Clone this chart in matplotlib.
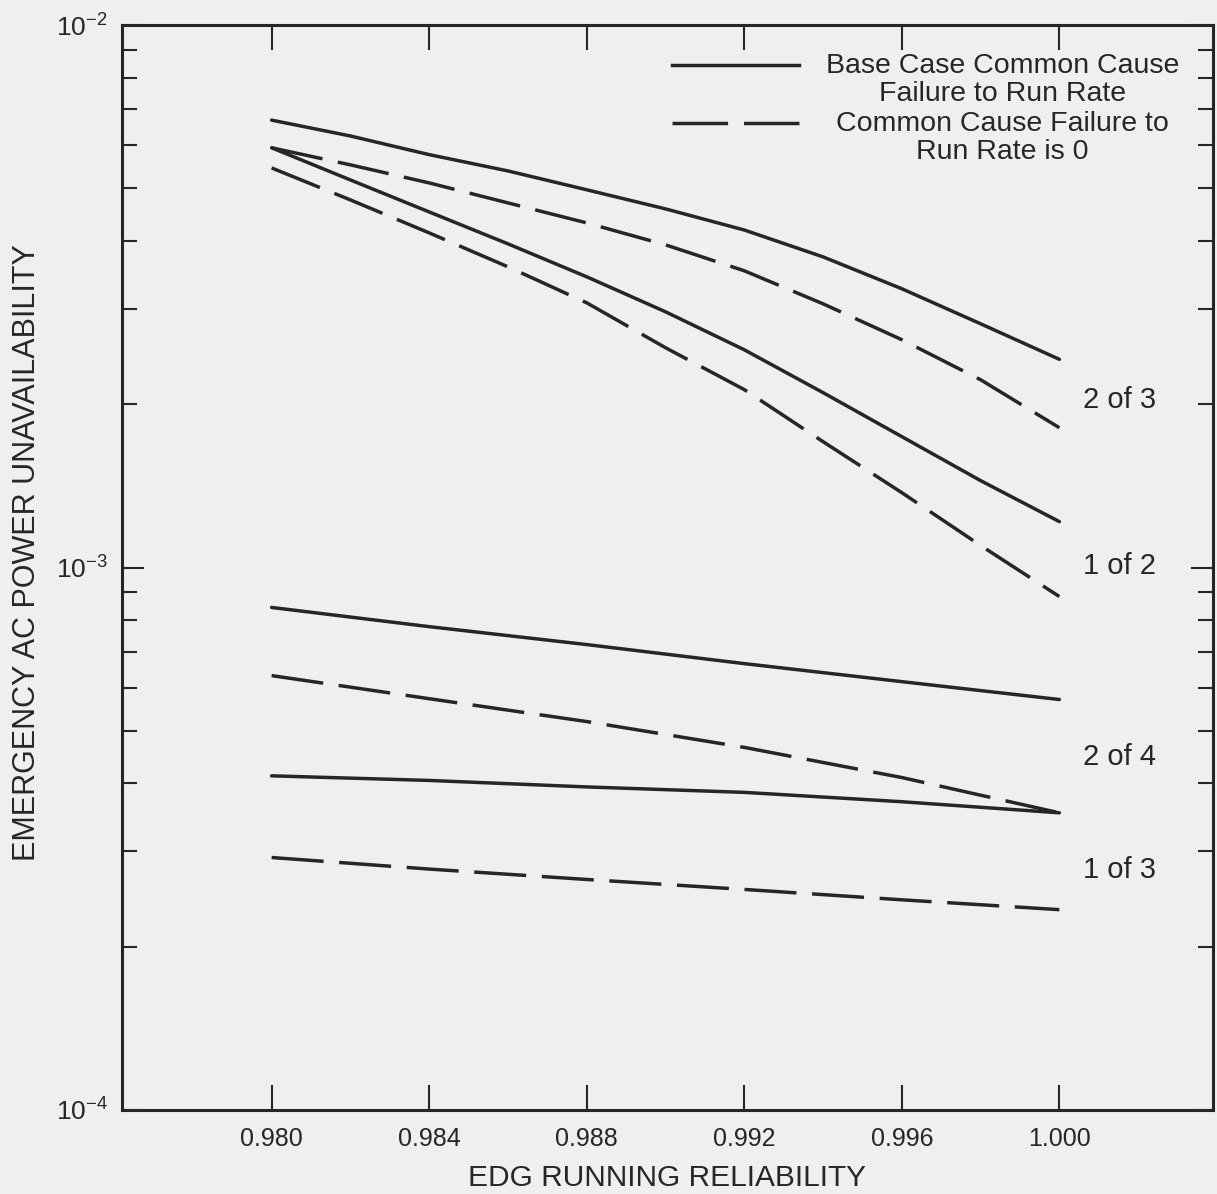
import numpy as np
import matplotlib
matplotlib.use('Agg')
import matplotlib.pyplot as plt
from matplotlib.ticker import LogLocator, FixedLocator, NullFormatter

plt.rcParams['font.family'] = ['Liberation Sans', 'DejaVu Sans']
plt.rcParams['mathtext.fontset'] = 'custom'
plt.rcParams['mathtext.rm'] = 'Liberation Sans'
plt.rcParams['mathtext.it'] = 'Liberation Sans'

# EDG running reliability (x)
rel_fine = [0.980, 0.982, 0.984, 0.986, 0.988, 0.990, 0.992, 0.994, 0.996, 0.998, 1.000]
rel = [0.980, 0.984, 0.988, 0.992, 0.996, 1.000]

# emergency AC power unavailability
# solid = base case common cause failure to run rate, dashed = CCF rate is 0
two_of_three_base = [6.68e-3, 6.245e-3, 5.77e-3, 5.384e-3, 4.97e-3, 4.583e-3,
                     4.19e-3, 3.738e-3, 3.265e-3, 2.814e-3, 2.42e-3]
two_of_three_zero = [5.94e-3, 5.525e-3, 5.117e-3, 4.701e-3, 4.318e-3, 3.934e-3,
                     3.524e-3, 3.063e-3, 2.630e-3, 2.219e-3, 1.810e-3]
one_of_two_base = [5.94e-3, 5.182e-3, 4.524e-3, 3.951e-3, 3.435e-3, 2.961e-3,
                   2.520e-3, 2.101e-3, 1.743e-3, 1.446e-3, 1.215e-3]
one_of_two_zero = [5.453e-3, 4.761e-3, 4.139e-3, 3.584e-3, 3.076e-3, 2.542e-3,
                   2.128e-3, 1.706e-3, 1.374e-3, 1.098e-3, 8.84e-4]
two_of_four_base = [8.44e-4, 7.78e-4, 7.21e-4, 6.65e-4, 6.16e-4, 5.71e-4]
two_of_four_zero = [6.32e-4, 5.73e-4, 5.20e-4, 4.66e-4, 4.10e-4, 3.53e-4]
one_of_three_base = [4.13e-4, 4.05e-4, 3.94e-4, 3.85e-4, 3.70e-4, 3.53e-4]
one_of_three_zero = [2.92e-4, 2.78e-4, 2.66e-4, 2.55e-4, 2.44e-4, 2.34e-4]

group_labels = ['2 of 3', '1 of 2', '2 of 4', '1 of 3']
label_y = [2.04e-3, 1.005e-3, 4.48e-4, 2.77e-4]
label_x = 1.0006

xticks = [0.980, 0.984, 0.988, 0.992, 0.996, 1.000]
xticklabels = ['0.980', '0.984', '0.988', '0.992', '0.996', '1.000']

legend_labels = ['Base Case Common Cause\nFailure to Run Rate',
                 'Common Cause Failure to\nRun Rate is 0']

ink = '#262626'
bg = '#efefef'
dash = (15, 4.5)
lw = 2.5

fig = plt.figure(figsize=(12.17, 11.94), dpi=100, facecolor=bg)
ax = fig.add_axes([0.1002, 0.0704, 0.8965, 0.9086], facecolor=bg)

for ys in [two_of_three_base, one_of_two_base]:
    ax.plot(rel_fine, ys, '-', color=ink, lw=lw, solid_capstyle='round')
for ys in [two_of_three_zero, one_of_two_zero]:
    ax.plot(rel_fine, ys, '--', color=ink, lw=lw, dashes=dash)
for ys in [two_of_four_base, one_of_three_base]:
    ax.plot(rel, ys, '-', color=ink, lw=lw, solid_capstyle='round')
for ys in [two_of_four_zero, one_of_three_zero]:
    ax.plot(rel, ys, '--', color=ink, lw=lw, dashes=dash)

for name, yv in zip(group_labels, label_y):
    ax.text(label_x, yv, name, fontsize=21, color=ink, ha='left', va='center')

# legend drawn by hand so the key sits on the first text line
ax.plot([0.504, 0.621], [0.963, 0.963], '-', color=ink, lw=lw, transform=ax.transAxes)
ax.plot([0.504, 0.621], [0.910, 0.910], '--', color=ink, lw=lw, dashes=(16, 4.6),
        transform=ax.transAxes)
ax.text(0.807, 0.9493, legend_labels[0], transform=ax.transAxes, fontsize=20.5,
        color=ink, ha='center', va='center', linespacing=1.1)
ax.text(0.807, 0.8963, legend_labels[1], transform=ax.transAxes, fontsize=20.5,
        color=ink, ha='center', va='center', linespacing=1.1)

ax.set_yscale('log')
ax.set_xlim(0.9762, 1.0039)
ax.set_ylim(1e-4, 1e-2)

ax.xaxis.set_major_locator(FixedLocator(xticks))
ax.set_xticklabels(xticklabels)
ax.yaxis.set_major_locator(LogLocator(base=10, numticks=10))
ax.yaxis.set_minor_locator(LogLocator(base=10, subs=np.arange(2, 10), numticks=20))
ax.yaxis.set_minor_formatter(NullFormatter())

ax.tick_params(axis='both', which='both', direction='in', color=ink,
               top=True, right=True, labelcolor=ink)
ax.tick_params(axis='x', which='major', length=18, width=1.5, labelsize=18, pad=12)
ax.tick_params(axis='y', which='major', length=16, width=1.5, labelsize=19, pad=10)
ax.tick_params(axis='y', which='minor', length=11, width=1.5)
for sp in ax.spines.values():
    sp.set_linewidth(2.2)
    sp.set_color(ink)

ax.set_xlabel('EDG RUNNING RELIABILITY', fontsize=21.5, color=ink, labelpad=10)
ax.set_ylabel('EMERGENCY AC POWER UNAVAILABILITY', fontsize=22, color=ink)
ax.yaxis.set_label_coords(-0.073, 0.514)

fig.savefig('out.png', dpi=100, facecolor=bg)
